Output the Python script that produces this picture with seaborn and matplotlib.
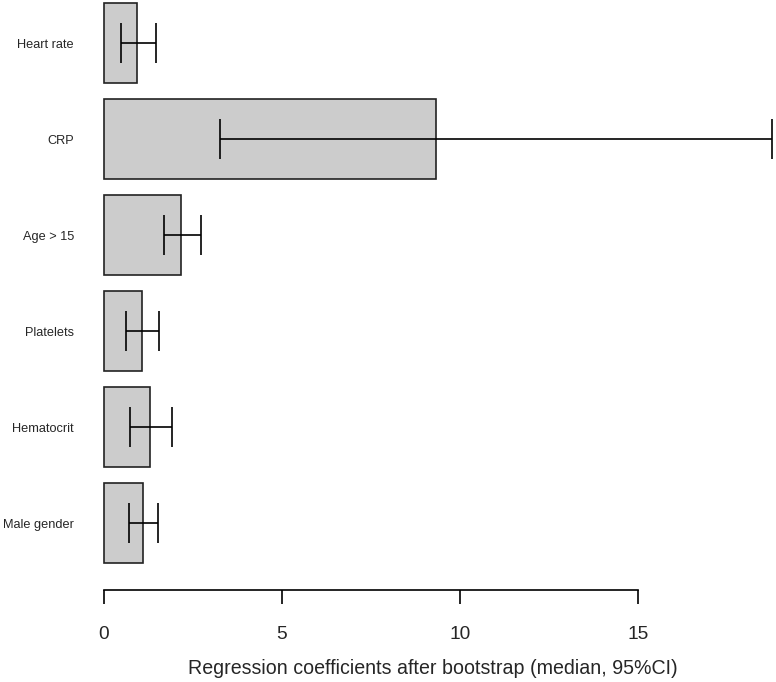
import numpy as np
import pandas as pd
import seaborn as sns
import matplotlib.pyplot as plt

# values (median and 95% CI)
labels = ["Heart rate", "CRP", "Age > 15", "Platelets", "Hematocrit", "Male gender"]
medians = [0.92, 9.33, 2.16, 1.06, 1.30, 1.10]
ci_low = [0.48, 3.26, 1.69, 0.61, 0.73, 0.70]
ci_high = [1.45, 18.76, 2.72, 1.55, 1.90, 1.53]

df = pd.DataFrame({"var": labels, "coef": medians, "lo": ci_low, "hi": ci_high})

sns.set_style("white")
plt.rcParams["font.family"] = ["Liberation Sans", "DejaVu Sans"]

fig = plt.figure(figsize=(7.76, 6.82), dpi=100)
ax = fig.add_axes([93.3 / 776, 1 - 566.2 / 682, 680 / 776, 566.2 / 682])

sns.barplot(data=df, x="coef", y="var", orient="h", color="#cccccc",
            saturation=1, width=0.833, edgecolor="#222222", linewidth=1.2,
            errorbar=None, ax=ax)

pos = np.arange(len(df))
ax.errorbar(df["coef"], pos,
            xerr=[df["coef"] - df["lo"], df["hi"] - df["coef"]],
            fmt="none", ecolor="black", elinewidth=1.2, capsize=14.4,
            capthick=1.2, clip_on=False)

ax.set_xlim(-0.3, 18.8)
ax.set_ylim(5.45, -0.45)
ax.set_xticks([0, 5, 10, 15])
ax.tick_params(axis="x", length=10, width=1.2, labelsize=13.8, pad=15.5,
               bottom=True, color="black")
ax.tick_params(axis="y", length=0, labelsize=9.2, pad=13.9)

for s in ["top", "right", "left"]:
    ax.spines[s].set_visible(False)
ax.spines["bottom"].set_position(("outward", 17.3))
ax.spines["bottom"].set_bounds(0, 15)
ax.spines["bottom"].set_linewidth(1.2)
ax.spines["bottom"].set_color("black")

ax.set_ylabel("")
ax.set_xlabel("Regression coefficients after bootstrap (median, 95%CI)",
              fontsize=14.1, labelpad=12)

fig.savefig("out.png", dpi=100)
